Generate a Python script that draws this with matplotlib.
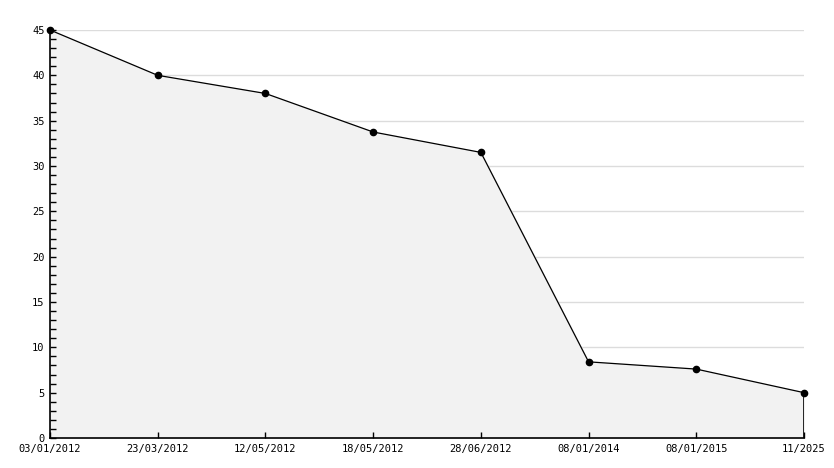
import matplotlib.pyplot as plt
import numpy as np

# dates (categorical, evenly spaced) and values
labels = ['03/01/2012', '23/03/2012', '12/05/2012', '18/05/2012',
          '28/06/2012', '08/01/2014', '08/01/2015', '11/2025']
values = [45, 40, 38, 33.75, 31.5, 8.4, 7.6, 5.0]

x = np.arange(len(labels))

fig = plt.figure(figsize=(8.34, 4.68), dpi=100)
ax = fig.add_axes([50 / 834, 30 / 468, 754 / 834, 408 / 468])

# grid lines
for v in range(5, 50, 5):
    ax.axhline(v, color='#dcdcdc', linewidth=1, zorder=0)

ax.fill_between(x, values, 0, color='#f2f2f2', zorder=1)
ax.plot(x, values, color='black', linewidth=0.9, marker='o', markersize=4.5,
        markerfacecolor='black', zorder=3, clip_on=False)
ax.vlines(x[-1], 0, values[-1], color='black', linewidth=1.2, zorder=3)

ax.set_xlim(x[0], x[-1])
ax.set_ylim(0, 45)

ax.set_xticks(x)
ax.set_xticklabels(labels)
ax.set_yticks(range(0, 50, 5))
ax.set_yticks(range(0, 46), minor=True)

for s in ['top', 'right']:
    ax.spines[s].set_visible(False)
for s in ['left', 'bottom']:
    ax.spines[s].set_linewidth(1.2)

ax.tick_params(axis='both', direction='in', length=4, width=1,
               labelsize=7.5, colors='black', pad=4)
ax.tick_params(axis='y', which='minor', direction='in', length=4, width=1)
ax.tick_params(axis='x', which='minor', length=0)
for lab in ax.get_xticklabels() + ax.get_yticklabels():
    lab.set_family('DejaVu Sans Mono')

fig.savefig('out.png', dpi=100)
